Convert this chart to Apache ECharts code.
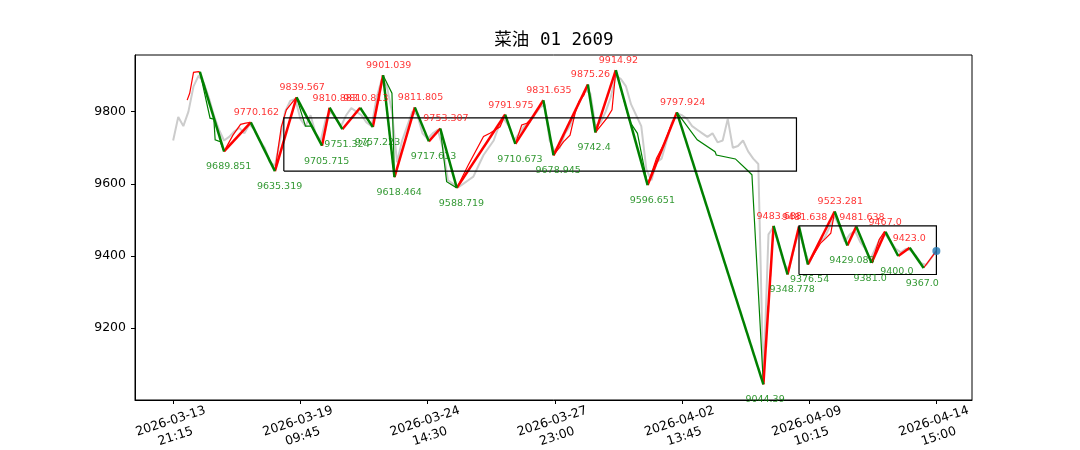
<!DOCTYPE html>
<html>
<head>
<meta charset="utf-8">
<script src="https://cdn.jsdelivr.net/npm/echarts@6/dist/echarts.min.js"></script>
<style>html,body{margin:0;padding:0;background:#fff;}#c{width:1080px;height:450px;}</style>
</head>
<body>
<div id="c"></div>
<script>
// ---- data ----
const titleText = '菜油 01 2609';
const tickIdx = [0, 100, 200, 300, 400, 500, 600];
const tickLabels = ['2026-03-13\n21:15','2026-03-19\n09:45','2026-03-24\n14:30','2026-03-27\n23:00','2026-04-02\n13:45','2026-04-09\n10:15','2026-04-14\n15:00'];
const yTicks = [9200, 9400, 9600, 9800];
const grayStep = 4;
const grayVals = [
9720,9785,9760,9800,9870,9900,9880,9840,9790,9750,
9720,9730,9745,9755,9740,9765,9750,9720,9700,9660,
9650,9720,9800,9830,9835,9780,9760,9790,9740,9720,
9780,9800,9780,9760,9790,9810,9800,9790,9770,9760,
9840,9890,9870,9800,9660,9720,9760,9800,9790,9740,
9725,9740,9750,9700,9610,9600,9590,9600,9610,9620,
9650,9680,9700,9720,9760,9780,9760,9720,9740,9760,
9770,9790,9810,9820,9720,9690,9700,9740,9760,9800,
9830,9860,9850,9760,9770,9800,9840,9900,9890,9870,
9820,9790,9760,9640,9610,9660,9670,9720,9770,9795,
9790,9780,9760,9750,9740,9730,9740,9715,9720,9780,
9700,9705,9720,9690,9670,9655,9050,9460,9480,9430,
9380,9360,9420,9470,9420,9380,9410,9440,9450,9480,
9510,9480,9440,9460,9470,9440,9420,9390,9420,9450,
9460,9440,9420,9410,9420,9415,9400,9380,9375,9395,
9415];
const zzIdx = [21,40,61,80,97,117,123,133,147,157,165,174,190,201,210,223,261,269,291,299,326,332,348,373,396,464,472,483,492,499,520,530,537,549,560,570,579,590];
const zzVal = [9910,9689.851,9770.162,9635.319,9839.567,9705.715,9810.883,9751.324,9810.813,9757.223,9901.039,9618.464,9811.805,9717.613,9753.307,9588.719,9791.975,9710.673,9831.635,9678.945,9875.26,9742.4,9914.92,9596.651,9797.924,9044.39,9483.688,9348.778,9481.638,9376.54,9523.281,9429.083,9481.638,9381.0,9467.0,9400.0,9423.0,9367.0];
const zzLabel = ['','9689.851','9770.162','9635.319','9839.567','9705.715','9810.883','9751.324','9810.813','9757.223','9901.039','9618.464','9811.805','9717.613','9753.307','9588.719','9791.975','9710.673','9831.635','9678.945','9875.26','9742.4','9914.92','9596.651','9797.924','9044.39','9483.688','9348.778','9481.638','9376.54','9523.281','9429.083','9481.638','9381.0','9467.0','9400.0','9423.0','9367.0'];
const thinRed = [
 [[11,9832],[13,9851],[16,9909],[20,9911],[21,9910]],
 [[40,9689.851],[47,9735],[53,9765],[57,9768],[61,9770.162]],
 [[80,9635.319],[85,9758],[89,9805],[93,9823],[97,9839.567]],
 [[223,9588.719],[232,9652],[244,9731],[249,9740],[257,9758],[261,9791.975]],
 [[269,9710.673],[274,9763],[278,9768],[283,9786],[291,9831.635]],
 [[299,9678.945],[307,9717],[312,9735],[316,9796],[319,9828],[323,9846],[326,9875.26]],
 [[332,9742.4],[341,9782],[345,9805],[348,9914.92]],
 [[373,9596.651],[380,9671],[386,9712],[391,9758],[396,9797.924]],
 [[499,9376.54],[509,9436],[513,9449],[517,9463],[520,9523.281]],
 [[549,9381],[555,9445],[559,9467],[560,9467]],
 [[590,9367],[600,9414]]
];
const thinGreen = [
 [[21,9910],[29,9782],[32,9779],[33,9722],[37,9717],[40,9689.851]],
 [[97,9839.567],[104,9760],[109,9760],[117,9705.715]],
 [[165,9901.039],[172,9851],[174,9618.464]],
 [[210,9753.307],[215,9606],[223,9588.719]],
 [[348,9914.92],[359,9772],[365,9740],[373,9596.651]],
 [[396,9797.924],[412,9722],[426,9689],[427,9680],[442,9669],[451,9639],[455,9625],[464,9044.39]]
];
const box1 = [87, 490, 9635.319, 9782.5];
const box2 = [492, 600, 9348.778, 9483.688];
const lastPoint = [600, 9414];

// ---- build ----
const grayData = grayVals.map((v, i) => [i * grayStep, v]);
const thickRed = [], thickGreen = [];
for (let i = 0; i < zzIdx.length - 1; i++) {
  const seg = {coords: [[zzIdx[i], zzVal[i]], [zzIdx[i + 1], zzVal[i + 1]]]};
  (zzVal[i + 1] > zzVal[i] ? thickRed : thickGreen).push(seg);
}
const peaks = [], troughs = [];
for (let i = 0; i < zzIdx.length; i++) {
  if (!zzLabel[i]) continue;
  const isPeak = (i > 0 && zzVal[i] > zzVal[i - 1]);
  (isPeak ? peaks : troughs).push([zzIdx[i], zzVal[i], zzLabel[i]]);
}
const boxPoly = b => ({coords: [[b[0], b[2]], [b[1], b[2]], [b[1], b[3]], [b[0], b[3]], [b[0], b[2]]]});

const chart = echarts.init(document.getElementById('c'), null, {renderer: 'canvas'});
const linesSeries = (data, color, width, z) => ({
  type: 'lines', coordinateSystem: 'cartesian2d', polyline: true, silent: true, z: z,
  data: data, lineStyle: {color: color, width: width, opacity: 1, curveness: 0}
});
chart.setOption({
  animation: false,
  backgroundColor: '#ffffff',
  title: {
    text: titleText, left: 549, top: 27, textAlign: 'center',
    textStyle: {fontFamily: 'DejaVu Sans Mono, Noto Sans CJK SC', fontSize: 17.5, fontWeight: 'normal', color: '#000'}
  },
  grid: {left: 135, right: 108, top: 55, bottom: 50, outerBoundsMode: 'none', containLabel: false,
    show: true, borderColor: '#000', borderWidth: 1, backgroundColor: 'transparent'},
  xAxis: {
    type: 'value', min: -30, max: 628,
    axisLine: {show: true, onZero: false, lineStyle: {color: '#000', width: 1}},
    axisTick: {show: true, customValues: tickIdx, length: 4, lineStyle: {color: '#000'}},
    splitLine: {show: false},
    axisLabel: {
      customValues: tickIdx, rotate: 18, margin: 29, align: 'center', verticalAlign: 'middle',
      fontFamily: 'DejaVu Sans', fontSize: 12.5, lineHeight: 16, color: '#000',
      formatter: v => tickLabels[tickIdx.indexOf(v)]
    }
  },
  yAxis: {
    type: 'value', min: 9001, max: 9957,
    axisLine: {show: true, onZero: false, lineStyle: {color: '#000', width: 1}},
    axisTick: {show: true, customValues: yTicks, length: 4, lineStyle: {color: '#000'}},
    splitLine: {show: false},
    axisLabel: {customValues: yTicks, margin: 9, fontFamily: 'DejaVu Sans', fontSize: 12.5, color: '#000',
      formatter: v => String(v)}
  },
  series: [
    {type: 'line', data: grayData, symbol: 'none', silent: true, z: 1,
     lineStyle: {color: '#cccccc', width: 2}},
    linesSeries(thinRed.map(c => ({coords: c})), '#ff0000', 1.2, 2),
    linesSeries(thinGreen.map(c => ({coords: c})), '#008000', 1.2, 2),
    linesSeries(thickRed, '#ff0000', 2.5, 3),
    linesSeries(thickGreen, '#008000', 2.5, 3),
    linesSeries([boxPoly(box1), boxPoly(box2)], '#000000', 1.2, 4),
    {type: 'scatter', data: peaks, symbolSize: 1, silent: true, z: 5,
     itemStyle: {color: 'rgba(0,0,0,0)'},
     label: {show: true, position: 'inside', align: 'left', verticalAlign: 'middle', offset: [-17, -9.5],
       fontFamily: 'DejaVu Sans', fontSize: 9.5, color: '#ff0000', formatter: p => p.data[2]}},
    {type: 'scatter', data: troughs, symbolSize: 1, silent: true, z: 5,
     itemStyle: {color: 'rgba(0,0,0,0)'},
     label: {show: true, position: 'inside', align: 'left', verticalAlign: 'middle', offset: [-18, 15.5],
       fontFamily: 'DejaVu Sans', fontSize: 9.5, color: '#008000', formatter: p => p.data[2]}},
    {type: 'scatter', data: [lastPoint], symbolSize: 8, silent: true, z: 6,
     itemStyle: {color: '#1f77b4'}}
  ]
});
</script>
</body>
</html>
